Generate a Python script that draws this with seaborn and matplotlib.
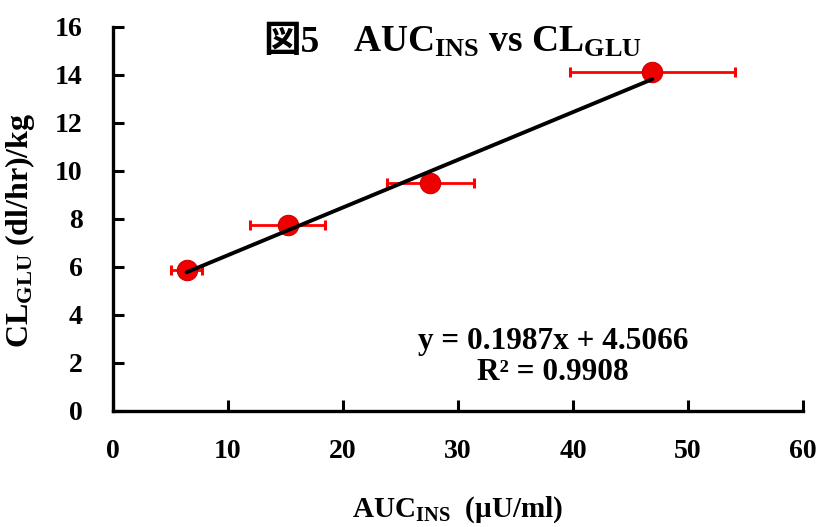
import numpy as np
import pandas as pd
import matplotlib
matplotlib.use("Agg")
import matplotlib.pyplot as plt
import seaborn as sns

# ---- data ----
auc_ins = [6.4, 15.2, 27.6, 46.9]          # x values (µU/ml)
cl_glu = [5.88, 7.75, 9.5, 14.12]          # y values (dl/hr)/kg
auc_err = [1.35, 3.25, 3.75, 7.15]         # horizontal error
slope = 0.1987
intercept = 4.5066
r2 = 0.9908
x_ticks = [0, 10, 20, 30, 40, 50, 60]
y_ticks = [0, 2, 4, 6, 8, 10, 12, 14, 16]

sns.set_theme(style="white")
plt.rcParams['font.family'] = ['Liberation Serif', 'Noto Sans CJK JP', 'DejaVu Sans']
plt.rcParams['font.weight'] = 'bold'
plt.rcParams['mathtext.fontset'] = 'custom'
plt.rcParams['mathtext.rm'] = 'Liberation Serif:bold'
plt.rcParams['mathtext.it'] = 'Liberation Serif:bold'
plt.rcParams['mathtext.bf'] = 'Liberation Serif:bold'
for k in ['text.color', 'axes.labelcolor', 'xtick.color', 'ytick.color']:
    plt.rcParams[k] = 'black'

W, H = 819, 527
fig = plt.figure(figsize=(W / 100, H / 100), dpi=100)
ax = fig.add_axes([113 / W, 1 - 411 / H, 690 / W, 384 / H])

df = pd.DataFrame({"AUC": auc_ins, "CL": cl_glu})
fit_x = [min(auc_ins), max(auc_ins)]
fit = pd.DataFrame({"x": fit_x, "y": [slope * v + intercept for v in fit_x]})

ax.errorbar(auc_ins, cl_glu, xerr=auc_err, fmt='none', ecolor='#ff0000',
            elinewidth=2.0, capsize=3.5, capthick=2.2, zorder=2)
sns.scatterplot(data=df, x="AUC", y="CL", ax=ax, color='#ee0000', s=215,
                edgecolor='#d00000', linewidth=0.8, zorder=3)
sns.lineplot(data=fit, x="x", y="y", ax=ax, color='black', linewidth=2.8, zorder=4)

ax.set_xlim(0, 60)
ax.set_ylim(0, 16)
ax.set_xticks(x_ticks)
ax.set_yticks(y_ticks)
ax.set_xticklabels([str(t) for t in x_ticks], fontsize=20, fontweight='bold')
ax.set_yticklabels([str(t) for t in y_ticks], fontsize=20, fontweight='bold')
ax.tick_params(axis='both', direction='in', length=8, width=2.2, color='black',
               left=True, bottom=True)
ax.tick_params(axis='x', pad=20)
ax.tick_params(axis='y', pad=22)
for side in ['top', 'right']:
    ax.spines[side].set_visible(False)
for side in ['left', 'bottom']:
    ax.spines[side].set_color('black')
    ax.spines[side].set_linewidth(2.4)

ax.set_xlabel(r"AUC$_{\mathrm{INS}}$  (µU/ml)", fontsize=21, fontweight='bold')
ax.xaxis.set_label_coords(0.5, -0.218)
ax.set_ylabel(r"CL$_{\mathrm{GLU}}$ (dl/hr)/kg", fontsize=23, fontweight='bold')
ax.yaxis.set_label_coords(-0.110, 0.471)

# title pieces
fig.text(263 / W, 1 - 52 / H, "図5", fontsize=27, fontweight='bold',
         family=['Liberation Serif', 'Noto Sans CJK JP'], va='baseline', ha='left')
fig.text(353 / W, 1 - 52 / H, r"AUC$_{\mathrm{INS}}$ vs CL$_{\mathrm{GLU}}$",
         fontsize=27, fontweight='bold', va='baseline', ha='left')

ax.text(0.638, 0.18, f"y = {slope}x + {intercept}", transform=ax.transAxes,
        fontsize=22.5, fontweight='bold', ha='center', va='center')
ax.text(0.638, 0.099, f"R² = {r2}", transform=ax.transAxes,
        fontsize=22.5, fontweight='bold', ha='center', va='center')

fig.savefig("out.png", dpi=100, facecolor='white')
